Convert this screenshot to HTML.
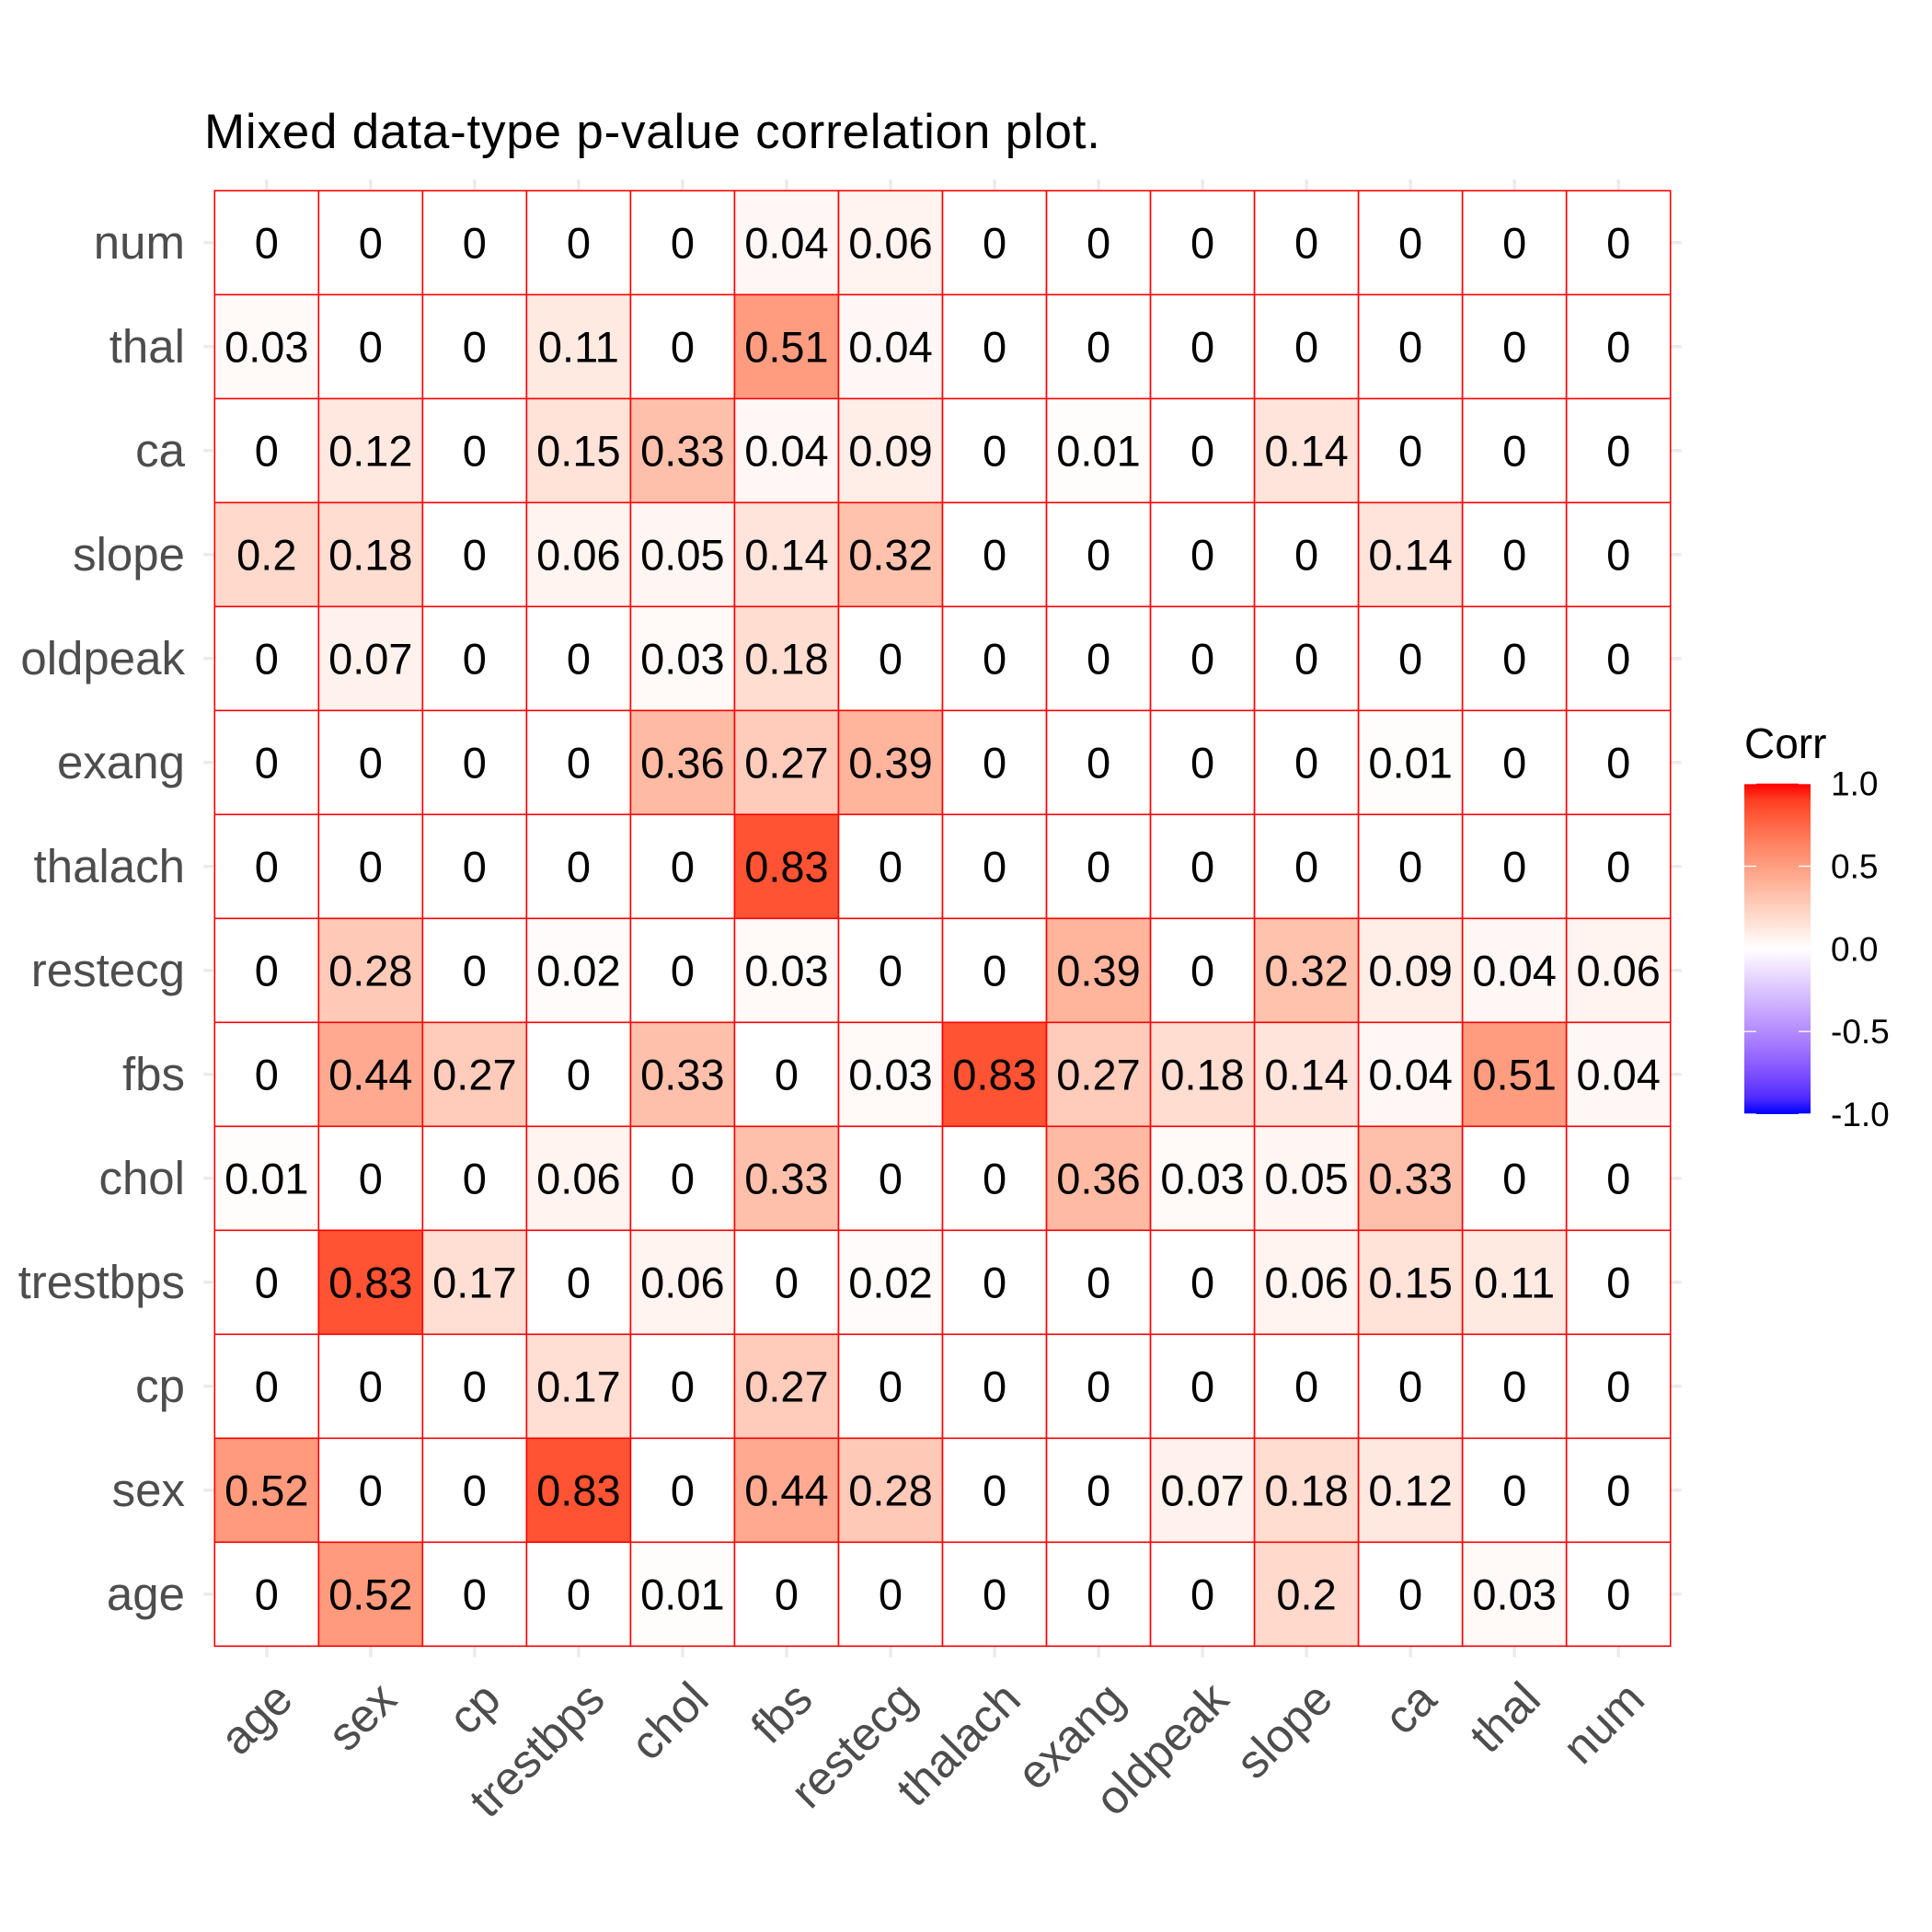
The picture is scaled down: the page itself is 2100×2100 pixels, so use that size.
<!DOCTYPE html>
<html><head><meta charset="utf-8"><style>html,body{margin:0;padding:0;background:#fff}svg{display:block}text{font-family:"Liberation Sans",Arial,sans-serif}</style></head>
<body>
<svg id="chart" width="2100" height="2100" viewBox="0 0 2100 2100" xmlns="http://www.w3.org/2000/svg">
<defs><linearGradient id="lg" x1="0" y1="0" x2="0" y2="1"></linearGradient></defs>
<text x="222" y="161" font-size="53" textLength="974" fill="#000">Mixed data-type p-value correlation plot.</text>
<g id="grid"></g><g id="tiles"></g><g id="labels"></g><g id="legend"></g>
</svg>
<script>
const columns = ["age","sex","cp","trestbps","chol","fbs","restecg","thalach","exang","oldpeak","slope","ca","thal","num"];
const rows = ["num","thal","ca","slope","oldpeak","exang","thalach","restecg","fbs","chol","trestbps","cp","sex","age"];
const rowNum = [0,0,0,0,0,0.04,0.06,0,0,0,0,0,0,0];
const rowThal = [0.03,0,0,0.11,0,0.51,0.04,0,0,0,0,0,0,0];
const rowCa = [0,0.12,0,0.15,0.33,0.04,0.09,0,0.01,0,0.14,0,0,0];
const rowSlope = [0.2,0.18,0,0.06,0.05,0.14,0.32,0,0,0,0,0.14,0,0];
const rowOldpeak = [0,0.07,0,0,0.03,0.18,0,0,0,0,0,0,0,0];
const rowExang = [0,0,0,0,0.36,0.27,0.39,0,0,0,0,0.01,0,0];
const rowThalach = [0,0,0,0,0,0.83,0,0,0,0,0,0,0,0];
const rowRestecg = [0,0.28,0,0.02,0,0.03,0,0,0.39,0,0.32,0.09,0.04,0.06];
const rowFbs = [0,0.44,0.27,0,0.33,0,0.03,0.83,0.27,0.18,0.14,0.04,0.51,0.04];
const rowChol = [0.01,0,0,0.06,0,0.33,0,0,0.36,0.03,0.05,0.33,0,0];
const rowTrestbps = [0,0.83,0.17,0,0.06,0,0.02,0,0,0,0.06,0.15,0.11,0];
const rowCp = [0,0,0,0.17,0,0.27,0,0,0,0,0,0,0,0];
const rowSex = [0.52,0,0,0.83,0,0.44,0.28,0,0,0.07,0.18,0.12,0,0];
const rowAge = [0,0.52,0,0,0.01,0,0,0,0,0,0.2,0,0.03,0];
const legendTicks = [1.0,0.5,0.0,-0.5,-1.0];
const legendTickLabels = ["1.0","0.5","0.0","-0.5","-1.0"];

const matrix = [rowNum,rowThal,rowCa,rowSlope,rowOldpeak,rowExang,rowThalach,rowRestecg,rowFbs,rowChol,rowTrestbps,rowCp,rowSex,rowAge];
const NS="http://www.w3.org/2000/svg";
const L=233.3,T=207.3,R=1815.7,B=1789.3;
const cw=(R-L)/columns.length, ch=(B-T)/rows.length;
function xScale(i){return L+i*cw;}
function yScale(j){return T+j*ch;}
function mk(tag,attrs,parent){const e=document.createElementNS(NS,tag);for(const k in attrs)e.setAttribute(k,attrs[k]);parent.appendChild(e);return e;}
function toLin(c){c/=255;return c<=0.04045?c/12.92:Math.pow((c+0.055)/1.055,2.4);}
function fromLin(c){c=c<=0.0031308?12.92*c:1.055*Math.pow(c,1/2.4)-0.055;return Math.max(0,Math.min(255,Math.round(c*255)));}
function rgb2lab(r,g,b){r=toLin(r);g=toLin(g);b=toLin(b);
let X=(0.4124*r+0.3576*g+0.1805*b)/0.95047,Y=0.2126*r+0.7152*g+0.0722*b,Z=(0.0193*r+0.1192*g+0.9505*b)/1.08883;
const f=t=>t>0.008856?Math.cbrt(t):7.787*t+16/116;X=f(X);Y=f(Y);Z=f(Z);return [116*Y-16,500*(X-Y),200*(Y-Z)];}
function lab2rgb(l,a,bb){let Y=(l+16)/116,X=a/500+Y,Z=Y-bb/200;const fi=t=>t*t*t>0.008856?t*t*t:(t-16/116)/7.787;
X=fi(X)*0.95047;Y=fi(Y);Z=fi(Z)*1.08883;
const r=3.2406*X-1.5372*Y-0.4986*Z,g=-0.9689*X+1.8758*Y+0.0415*Z,b=0.0557*X-0.2040*Y+1.0570*Z;
return "rgb("+fromLin(r)+","+fromLin(g)+","+fromLin(b)+")";}
const W=rgb2lab(255,255,255),RD=rgb2lab(255,0,0),BL=rgb2lab(0,0,255);
function color(v){const t=Math.min(1,Math.abs(v));const e=v>=0?RD:BL;return lab2rgb(W[0]+(e[0]-W[0])*t,W[1]+(e[1]-W[1])*t,W[2]+(e[2]-W[2])*t);}

const grid=document.getElementById('grid'),tiles=document.getElementById('tiles'),labels=document.getElementById('labels'),legend=document.getElementById('legend');
columns.forEach((c,i)=>{const cx=xScale(i)+cw/2;
 const g=mk('line',{x1:cx,x2:cx,y1:T-12,y2:B+12,stroke:'#ebebeb','stroke-width':3.5},grid);
 
 
 const ax=cx+31, ay=1850;
 const t=mk('text',{x:ax,y:ay,'font-size':51,fill:'#4d4d4d','text-anchor':'end',transform:'rotate(-45 '+ax+' '+ay+')'},labels);
 t.textContent=c;
 
 
});
rows.forEach((r,j)=>{const cy=yScale(j)+ch/2;
 const g=mk('line',{x1:L-12,x2:R+12,y1:cy,y2:cy,stroke:'#ebebeb','stroke-width':3.5},grid);
 
 
 const t=mk('text',{x:201,y:cy+17,'font-size':51,fill:'#4d4d4d','text-anchor':'end'},labels);
 t.textContent=r;
 
 
});
matrix.forEach((row,j)=>row.forEach((v,i)=>{
 const rc=mk('rect',{x:xScale(i),y:yScale(j),width:cw,height:ch,fill:color(v),stroke:'#ff0000','stroke-width':1.6},tiles);
 
 
}));
matrix.forEach((row,j)=>row.forEach((v,i)=>{
 const t=mk('text',{x:xScale(i)+cw/2,y:yScale(j)+ch/2+16.5,'font-size':47,fill:'#000','text-anchor':'middle'},tiles);
 t.textContent=String(v);
 
 
}));
const lg=document.getElementById('lg');
for(let k=0;k<=20;k++){const v=1-k/10;mk('stop',{offset:(k/20),'stop-color':color(v)},lg);}
const BT=851.7,BB=1211,BX=1896,BW=72;
function lScale(v){return BT+(1-v)/2*(BB-BT);}
const ttl=mk('text',{x:1896,y:824,'font-size':46,fill:'#000'},legend);
ttl.textContent='Corr';


const bar=mk('rect',{x:BX,y:BT,width:BW,height:BB-BT,fill:'url(#lg)'},legend);


legendTicks.forEach((v,k)=>{const y=lScale(v);
 mk('line',{x1:BX,x2:BX+13,y1:y,y2:y,stroke:'#fff','stroke-width':1.3},legend);
 mk('line',{x1:BX+BW-13,x2:BX+BW,y1:y,y2:y,stroke:'#fff','stroke-width':1.3},legend);
 const t=mk('text',{x:1990,y:y+13,'font-size':37,fill:'#000'},legend);
 t.textContent=legendTickLabels[k];
 
 
});
</script>
</body></html>
